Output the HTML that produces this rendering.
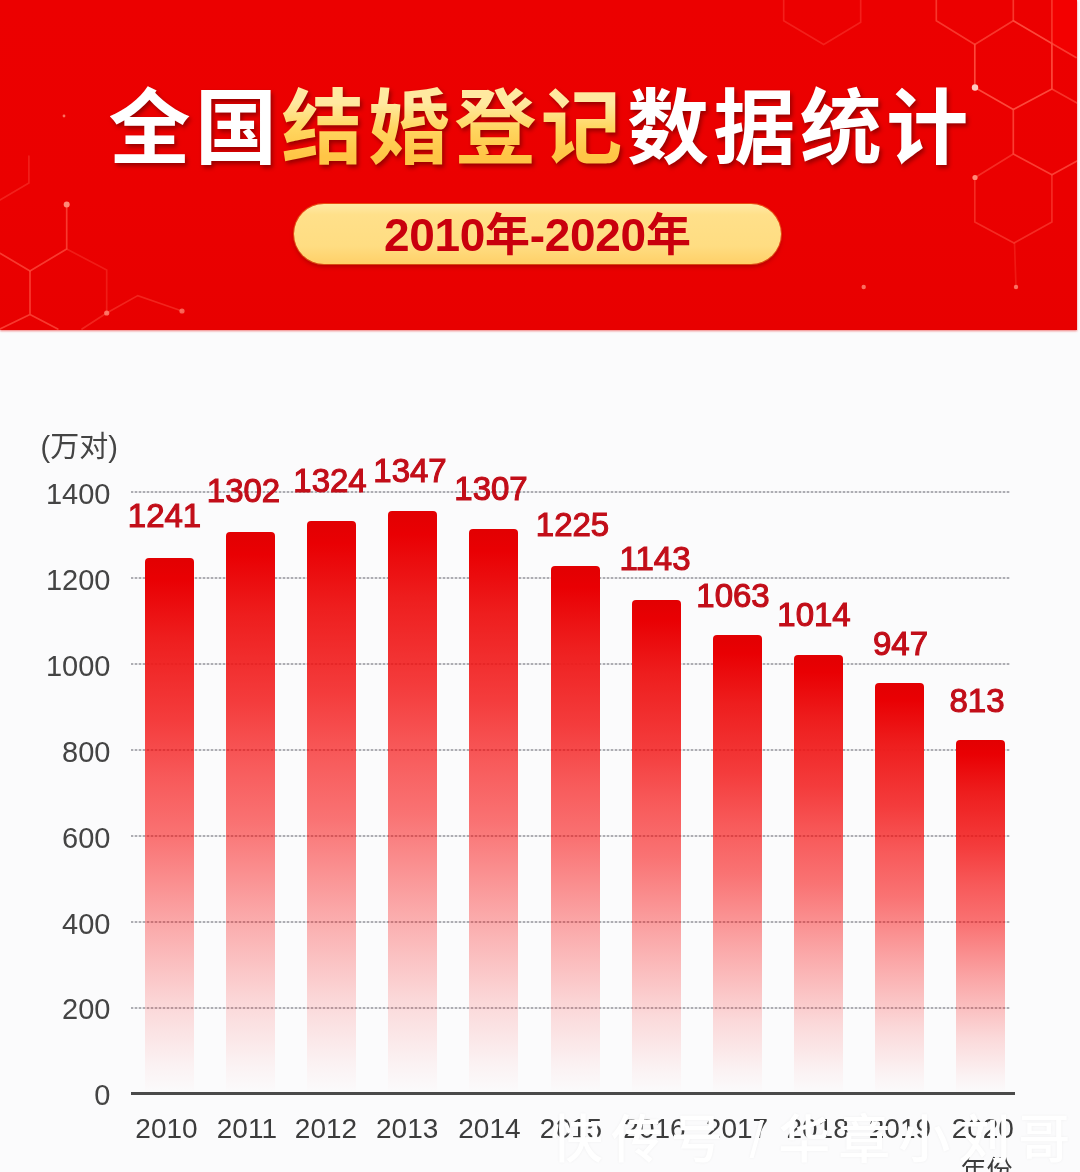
<!DOCTYPE html>
<html lang="zh-CN">
<head>
<meta charset="utf-8">
<title>全国结婚登记数据统计</title>
<style>
html,body{margin:0;padding:0;}
body{width:1080px;height:1172px;overflow:hidden;background:#fbfbfc;font-family:"Liberation Sans","Noto Sans CJK SC",sans-serif;}
#page{position:relative;width:1080px;height:1172px;overflow:hidden;background:#fbfbfc;}
#hdr{position:absolute;left:0;top:0;width:1077px;height:330px;background:linear-gradient(to bottom,#ec0000 0%,#eb0000 60%,#e80000 100%);box-shadow:0 1px 2px rgba(235,40,40,.6);}
#hdr svg{position:absolute;left:0;top:0;}
#title{position:absolute;left:108.6px;top:69px;width:960px;height:120px;line-height:120px;text-align:left;white-space:nowrap;font-family:"Liberation Sans","Noto Sans CJK SC",sans-serif;font-weight:700;font-size:82px;letter-spacing:4.4px;color:#fff;filter:drop-shadow(2px 3px 2px rgba(125,0,0,.75));}
#title b{font-weight:700;color:#ffd35a;background:linear-gradient(to bottom,#ffe9a0 22%,#ffd660 50%,#ffc546 80%);-webkit-background-clip:text;background-clip:text;-webkit-text-fill-color:transparent;}
#pill{position:absolute;left:293.5px;top:203.5px;width:487.5px;height:60.5px;border-radius:31px;background:linear-gradient(to bottom,#ffe9a6 0%,#ffe08a 18%,#ffdd82 70%,#ffd068 100%);box-shadow:0 0 0 1px rgba(238,140,30,.55),0 3px 4px rgba(140,0,0,.55);text-align:center;line-height:63.5px;letter-spacing:-.3px;font-weight:700;font-size:46px;color:#c9000d;white-space:nowrap;}
#pill span{font-size:45px;position:relative;top:.5px;}
.bar{position:absolute;width:49px;border-radius:4px 4px 0 0;background:linear-gradient(to bottom,rgba(226,0,2,1) 0%,rgba(233,0,3,1) 4%,rgba(238,30,30,1) 15%,rgba(242,6,6,.78) 30%,rgba(246,6,6,.66) 41%,rgba(248,8,8,.56) 52%,rgba(250,12,12,.35) 68%,rgba(250,20,20,.15) 84%,rgba(250,30,30,.04) 95%,rgba(250,30,30,0) 100%);}
.val{position:absolute;width:120px;text-align:center;font-size:33px;line-height:34px;color:#c20e19;-webkit-text-stroke:1.1px #c20e19;white-space:nowrap;}
.yr{position:absolute;top:1111.5px;width:80px;text-align:center;font-size:28px;line-height:34px;color:#3c3c3c;white-space:nowrap;}
.yl{position:absolute;left:0;width:110.5px;text-align:right;font-size:29px;line-height:32px;color:#444;white-space:nowrap;}
.grid{position:absolute;left:131px;width:879px;height:2px;background:repeating-linear-gradient(to right,rgba(95,95,105,.5) 0,rgba(95,95,105,.5) 2px,rgba(140,140,150,.22) 2px,rgba(140,140,150,.22) 4px);}
#axis{position:absolute;left:131px;top:1092px;width:884px;height:3px;background:#4a4a4a;}
#unit{position:absolute;left:40.5px;top:430px;font-size:29px;line-height:34px;color:#444;white-space:nowrap;}
#nf{position:absolute;left:960.5px;top:1152.5px;font-size:26px;line-height:34px;color:#3c3c3c;white-space:nowrap;}
#wm{position:absolute;left:551px;top:1103.5px;font-size:52px;line-height:72px;color:#fff;font-weight:500;white-space:pre;letter-spacing:8px;word-spacing:-4px;text-shadow:0 0 3px rgba(0,0,0,.05);font-family:"Liberation Sans","Noto Sans CJK SC",sans-serif;}
</style>
</head>
<body>
<div id="page">
<div id="hdr">
<svg width="1077" height="330" viewBox="0 0 1077 330" fill="none" stroke="#ff5546" stroke-width="1.7" stroke-linecap="round">
<path d="M1052 0H1077V58L1052 43.5Z" fill="#f60000" stroke="none" opacity=".7"/>
<g opacity=".85">
<path d="M936.3 0V20.7L974.8 44.4L1013.3 20.7V0" opacity=".75"/>
<path d="M974.8 44.4V87.4L1013.3 109.6L1051.9 88.9V43.5L1013.3 20.7" />
<path d="M1051.9 43.5L1076 57.5" opacity=".8"/>
<path d="M1051.9 0V44.4" opacity=".7"/>
<path d="M1013.3 109.6V154L1051.9 174.8L1077 161" opacity=".85"/>
<path d="M1051.9 88.9L1077 103" opacity=".7"/>
<path d="M1013.3 154L974.8 177.8V222L1014 243L1051.9 222V174.8" opacity=".6"/>
<path d="M1014.5 243L1016 287" opacity=".35"/>
<path d="M783.7 0V20.7L823.7 44.4L860.7 22.2V0" opacity=".45"/>
<path d="M28.9 156V183L0 200" opacity=".45"/>
<path d="M66.7 207V248.9L30 271.1L0 253.3" opacity=".8"/>
<path d="M66.7 248.9L106.7 270V313" opacity=".4"/>
<path d="M30 271V314.4L0 329M30 314.4L57.8 329" opacity=".8"/>
<path d="M82 329L106.7 313L137.8 295.6L182 311" opacity=".5"/>
</g>
<g fill="#ff8a78" stroke="none">
<circle cx="975" cy="87.5" r="3.2" fill="#ffc9c0"/>
<circle cx="975" cy="177.5" r="2.6"/>
<circle cx="1016" cy="287" r="2.2" opacity=".8"/>
<circle cx="863.7" cy="287" r="2.2" opacity=".8"/>
<circle cx="66.7" cy="204.5" r="3"/>
<circle cx="106.7" cy="313" r="2.6" opacity=".8"/>
<circle cx="182" cy="311" r="2.6" opacity=".7"/>
<circle cx="64" cy="116" r="1.4" opacity=".8"/>
</g>

</svg>
</div>
<div id="title">全国<b>结婚登记</b>数据统计</div>
<div id="pill">2010<span>年</span>-2020<span>年</span></div>
<div id="unit">(万对)</div>
<div class="yl" style="top:478.0px">1400</div><div class="yl" style="top:563.9px">1200</div><div class="yl" style="top:649.8px">1000</div><div class="yl" style="top:735.7px">800</div><div class="yl" style="top:821.6px">600</div><div class="yl" style="top:907.5px">400</div><div class="yl" style="top:993.4px">200</div><div class="yl" style="top:1079.3px">0</div>
<div class="grid" style="top:491px"></div><div class="grid" style="top:577px"></div><div class="grid" style="top:663px"></div><div class="grid" style="top:749px"></div><div class="grid" style="top:835px"></div><div class="grid" style="top:921px"></div><div class="grid" style="top:1007px"></div>
<div class="bar" style="left:145.0px;top:558px;height:536px"></div><div class="val" style="left:104.5px;top:498.5px">1241</div><div class="yr" style="left:126.5px">2010</div><div class="bar" style="left:226.1px;top:532px;height:562px"></div><div class="val" style="left:183.5px;top:473.5px">1302</div><div class="yr" style="left:206.9px">2011</div><div class="bar" style="left:307.2px;top:520.5px;height:573.5px"></div><div class="val" style="left:270.0px;top:464.0px">1324</div><div class="yr" style="left:286.0px">2012</div><div class="bar" style="left:388.3px;top:511px;height:583px"></div><div class="val" style="left:350.0px;top:454.0px">1347</div><div class="yr" style="left:367.2px">2013</div><div class="bar" style="left:469.4px;top:529px;height:565px"></div><div class="val" style="left:431.0px;top:471.5px">1307</div><div class="yr" style="left:449.4px">2014</div><div class="bar" style="left:550.5px;top:566px;height:528px"></div><div class="val" style="left:512.5px;top:507.5px">1225</div><div class="yr" style="left:531.0px">2015</div><div class="bar" style="left:631.6px;top:600px;height:494px"></div><div class="val" style="left:595.0px;top:541.5px">1143</div><div class="yr" style="left:614.5px">2016</div><div class="bar" style="left:712.7px;top:634.5px;height:459.5px"></div><div class="val" style="left:673.0px;top:579.0px">1063</div><div class="yr" style="left:697.0px">2017</div><div class="bar" style="left:793.8px;top:655px;height:439px"></div><div class="val" style="left:754.0px;top:597.5px">1014</div><div class="yr" style="left:777.6px">2018</div><div class="bar" style="left:874.9px;top:682.5px;height:411.5px"></div><div class="val" style="left:840.5px;top:626.5px">947</div><div class="yr" style="left:859.9px">2019</div><div class="bar" style="left:956.0px;top:740px;height:354px"></div><div class="val" style="left:917.0px;top:684.0px">813</div><div class="yr" style="left:942.8px">2020</div>
<div id="axis"></div>
<div id="nf">年份</div>
<div id="wm">快传号 / <span style="margin-left:-12px">华章小刘哥</span></div>
</div>
</body>
</html>
